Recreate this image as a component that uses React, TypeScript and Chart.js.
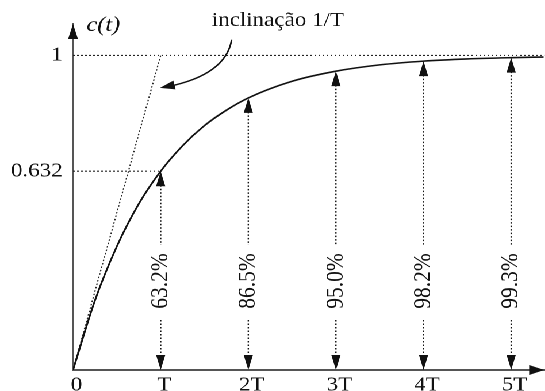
import React, { useEffect, useRef } from "react";
import { Chart, registerables } from "chart.js";

Chart.register(...registerables);

// ---- data ----
const timeT = [0, 0.25, 0.5, 0.75, 1, 1.25, 1.5, 1.75, 2, 2.5, 3, 3.5, 4, 4.5, 5, 5.37];
const response = [0, 0.221, 0.393, 0.528, 0.632, 0.713, 0.777, 0.826, 0.865, 0.918, 0.95, 0.97, 0.982, 0.989, 0.993, 0.995];

const tangentT = [0, 1];
const tangentC = [0, 1];

const stepT = [1, 2, 3, 4, 5];
const stepValues = [0.632, 0.865, 0.95, 0.982, 0.993];
const stepLabels = ["63.2%", "86.5%", "95.0%", "98.2%", "99.3%"];

const xTickValues = [0, 1, 2, 3, 4, 5];
const xTickLabels = ["0", "T", "2T", "3T", "4T", "5T"];
const yTickValues = [0.632, 1];
const yTickLabels = ["0.632", "1"];

const yAxisLabel = "c(t)";
const slopeNote = "inclinação 1/T";

const X_MAX = 5.376;
const Y_MAX = 1.1;
const SERIF = '"Liberation Serif", "Times New Roman", serif';
const INK = "#111";

function arrowHead(ctx: CanvasRenderingContext2D, tx: number, ty: number, dx: number, dy: number, len: number, hw: number) {
  const n = Math.hypot(dx, dy) || 1;
  dx /= n; dy /= n;
  const bx = tx - dx * len, by = ty - dy * len;
  const nx = -dy, ny = dx;
  ctx.beginPath();
  ctx.moveTo(tx, ty);
  ctx.lineTo(bx + nx * hw, by + ny * hw);
  ctx.lineTo(bx - nx * hw, by - ny * hw);
  ctx.closePath();
  ctx.fill();
}

const annotations = {
  id: "annotations",
  afterDatasetsDraw(chart: any) {
    const { ctx, chartArea } = chart;
    const x = chart.scales.x, y = chart.scales.y;
    ctx.save();
    ctx.fillStyle = INK;
    ctx.strokeStyle = INK;

    // axis arrowheads
    arrowHead(ctx, chartArea.left, chartArea.top, 0, -1, 15, 4.3);
    arrowHead(ctx, chartArea.right, chartArea.bottom, 1, 0, 13, 5);

    // vertical dotted arrows with percentages
    const bot = y.getPixelForValue(0);
    const mid = y.getPixelForValue(0.283);
    stepT.forEach((t, i) => {
      const px = x.getPixelForValue(t);
      const top = y.getPixelForValue(stepValues[i]);
      ctx.save();
      ctx.setLineDash([1.5, 2]);
      ctx.lineWidth = 1.2;
      ctx.beginPath();
      ctx.moveTo(px, top + 14);
      ctx.lineTo(px, mid - 36);
      ctx.moveTo(px, mid + 39);
      ctx.lineTo(px, bot - 14);
      ctx.stroke();
      ctx.restore();
      arrowHead(ctx, px, top, 0, -1, 15, 4);
      arrowHead(ctx, px, bot, 0, 1, 15, 4);
      ctx.save();
      ctx.translate(px, mid);
      ctx.rotate(-Math.PI / 2);
      ctx.font = `21.5px ${SERIF}`;
      ctx.textAlign = "center";
      ctx.textBaseline = "middle";
      ctx.fillText(stepLabels[i], 0, 0);
      ctx.restore();
    });

    // curved pointer to the tangent line
    const sx = x.getPixelForValue(1.81), sy = y.getPixelForValue(1.05);
    const cx = x.getPixelForValue(1.743), cy = y.getPixelForValue(0.938);
    const ex = x.getPixelForValue(0.991), ey = y.getPixelForValue(0.897);
    ctx.lineWidth = 1.4;
    ctx.beginPath();
    ctx.moveTo(sx, sy);
    ctx.quadraticCurveTo(cx, cy, ex + 6, ey - 1);
    ctx.stroke();
    arrowHead(ctx, ex, ey, ex - cx, ey - cy, 13, 4.5);

    // texts
    ctx.textAlign = "left";
    ctx.textBaseline = "alphabetic";
    ctx.font = `italic 21px ${SERIF}`;
    ctx.fillText(yAxisLabel, x.getPixelForValue(0.155), y.getPixelForValue(1.078));
    ctx.font = `20px ${SERIF}`;
    ctx.fillText(slopeNote, x.getPixelForValue(1.583), y.getPixelForValue(1.094));
    ctx.restore();
  },
};

const dotted = {
  borderColor: "#222",
  borderWidth: 1.1,
  borderDash: [1.5, 2],
  pointRadius: 0,
  fill: false,
};

export default function App() {
  const canvasRef = useRef<HTMLCanvasElement | null>(null);

  useEffect(() => {
    if (!canvasRef.current) return;
    const chart = new Chart(canvasRef.current, {
      type: "line",
      data: {
        datasets: [
          {
            label: "c(t)",
            data: timeT.map((t, i) => ({ x: t, y: response[i] })),
            borderColor: INK,
            borderWidth: 1.6,
            pointRadius: 0,
            cubicInterpolationMode: "monotone",
            fill: false,
          },
          { label: "tangente", data: tangentT.map((t, i) => ({ x: t, y: tangentC[i] })), ...dotted },
          { label: "final", data: [{ x: 0, y: 1 }, { x: X_MAX, y: 1 }], ...dotted },
          { label: "0.632", data: [{ x: 0, y: stepValues[0] }, { x: stepT[0], y: stepValues[0] }], ...dotted },
        ] as any,
      },
      options: {
        animation: false,
        responsive: true,
        maintainAspectRatio: false,
        devicePixelRatio: 2,
        layout: { padding: { left: 0, right: 0, top: 24, bottom: 0 } },
        plugins: { legend: { display: false }, tooltip: { enabled: false } },
        scales: {
          x: {
            type: "linear",
            min: 0,
            max: X_MAX,
            grid: { display: false, drawTicks: false, tickLength: 0 },
            border: { display: true, color: "#555", width: 2 },
            afterBuildTicks: (s: any) => { s.ticks = xTickValues.map((v) => ({ value: v })); },
            afterFit: (s: any) => { s.height = 21; },
            ticks: {
              autoSkip: false,
              maxRotation: 0,
              padding: 3,
              labelOffset: 3,
              color: INK,
              font: { family: SERIF, size: 20 },
              callback: (v: any) => xTickLabels[xTickValues.indexOf(Number(v))] ?? "",
            },
          },
          y: {
            type: "linear",
            min: 0,
            max: Y_MAX,
            grid: { display: false, drawTicks: false, tickLength: 0 },
            border: { display: true, color: "#555", width: 2 },
            afterBuildTicks: (s: any) => { s.ticks = yTickValues.map((v) => ({ value: v })); },
            afterFit: (s: any) => { s.width = 63.5; },
            ticks: {
              autoSkip: false,
              padding: 9,
              color: INK,
              font: { family: SERIF, size: 20 },
              callback: (v: any) => yTickLabels[yTickValues.indexOf(Number(v))] ?? "",
            },
          },
        },
      } as any,
      plugins: [annotations],
    });
    return () => chart.destroy();
  }, []);

  return (
    <div
      style={{
        position: "fixed",
        left: 0,
        top: 0,
        width: 474,
        height: 391,
        transform: "scaleX(1.15)",
        transformOrigin: "0 0",
        background: "#fff",
      }}
    >
      <canvas ref={canvasRef} />
    </div>
  );
}
